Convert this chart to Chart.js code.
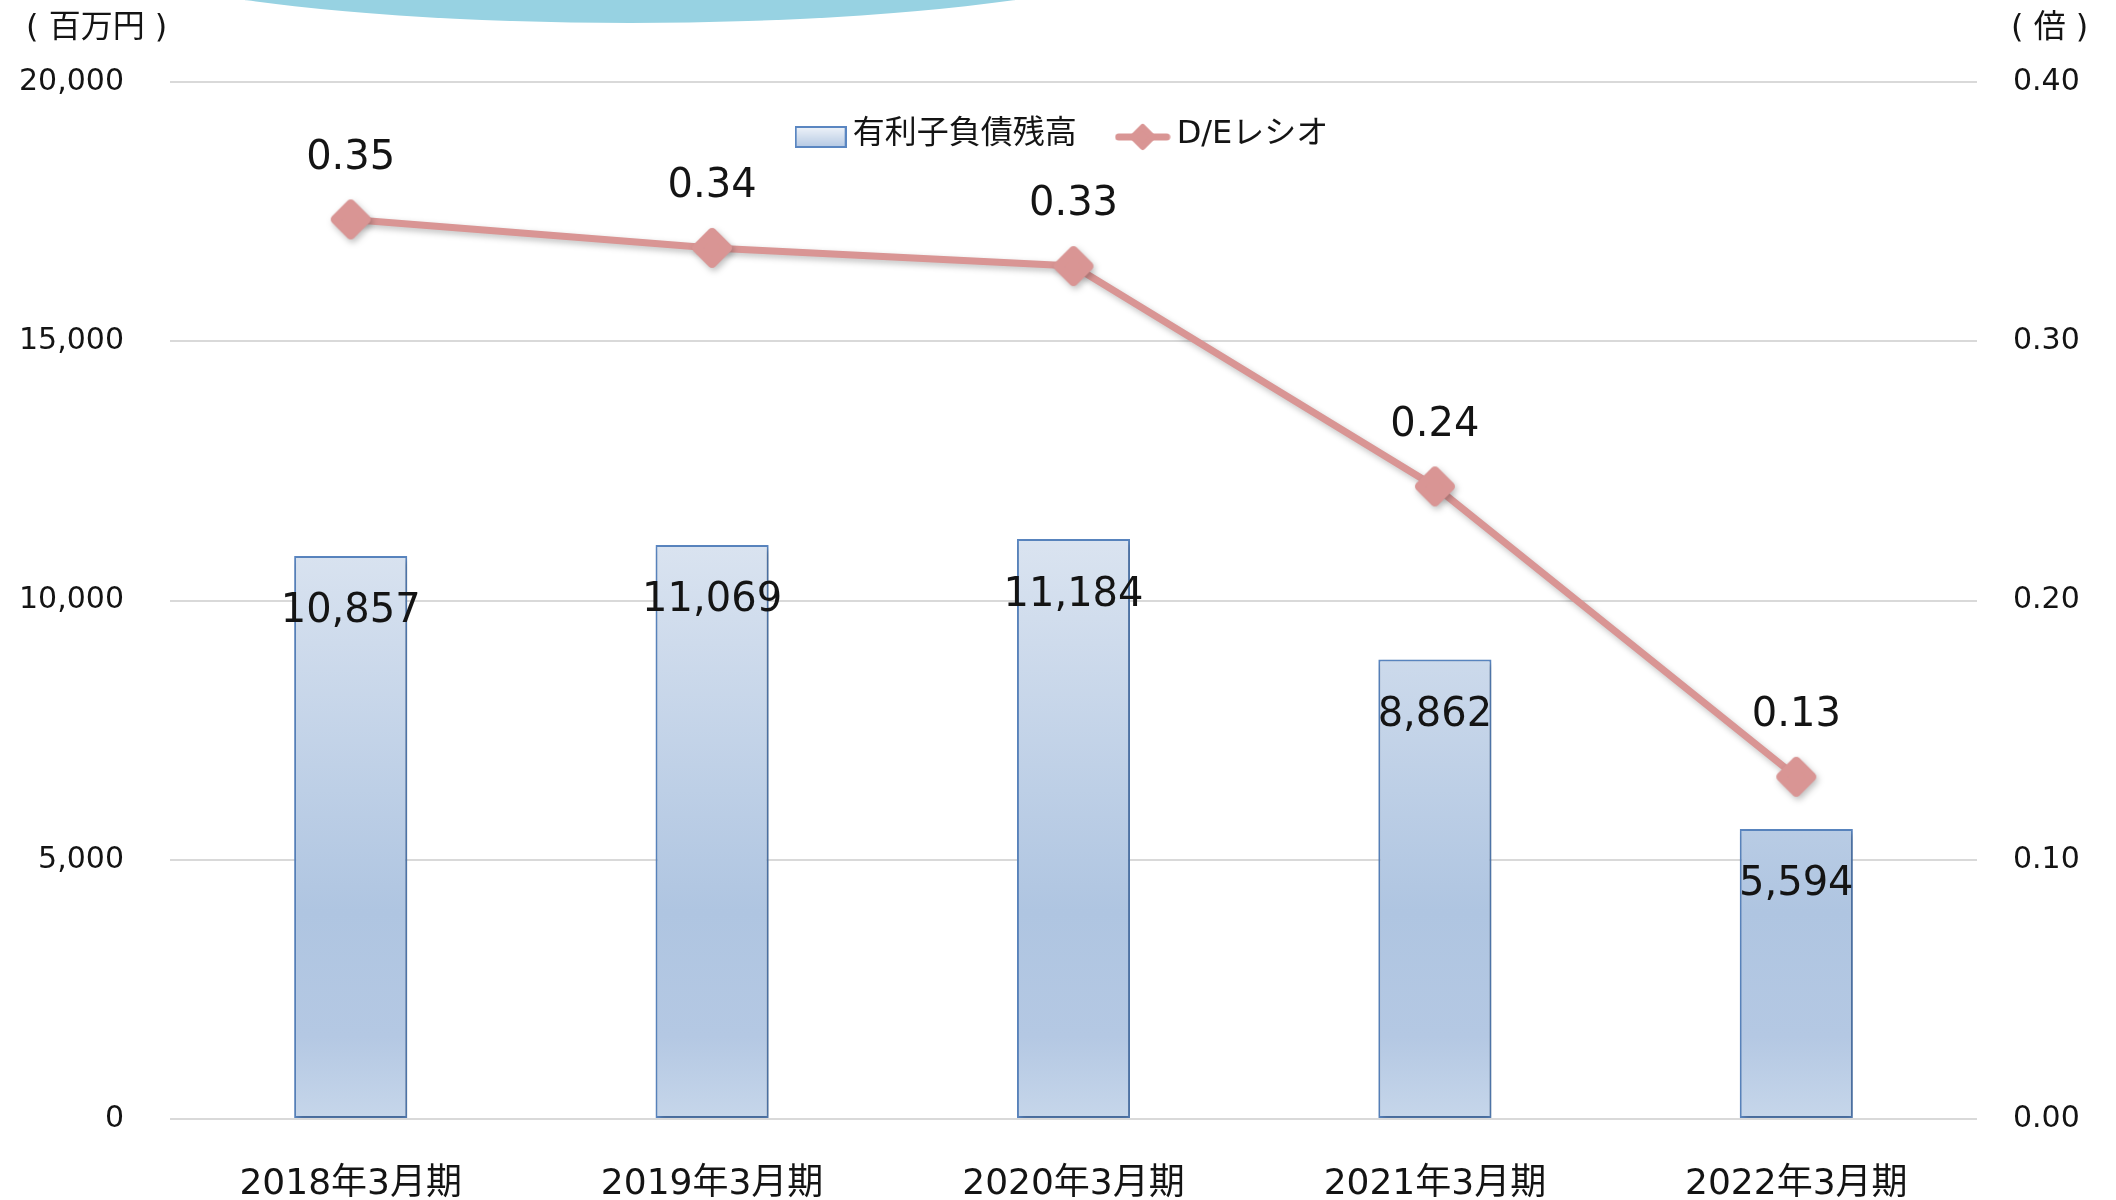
<!DOCTYPE html>
<html lang="ja">
<head>
<meta charset="utf-8">
<title>有利子負債残高とD/Eレシオ</title>
<script src="https://cdn.jsdelivr.net/npm/chart.js@4.4.1/dist/chart.umd.min.js"></script>
<style>
    html, body {
        margin: 0;
        padding: 0;
        background: #ffffff;
        overflow: hidden;
    }

    .chart-wrap {
        position: relative;
        width: 2116px;
        height: 1200px;
    }

    .top-arc {
        position: absolute;
        left: 26px;
        top: -177px;
        width: 1208px;
        height: 200px;
        border-radius: 50%;
        background: #97d2e2;
    }

    #debtChart {
        position: relative;
    }
</style>
</head>
<body>
<div class="chart-wrap">
    <div class="top-arc"></div>
    <canvas id="debtChart" width="2116" height="1200"></canvas>
</div>
<script>
const periods = ['2018年3月期', '2019年3月期', '2020年3月期', '2021年3月期', '2022年3月期'];
const debtBalance = [10857, 11069, 11184, 8862, 5594];
const deRatio = [0.347, 0.336, 0.329, 0.244, 0.132];
const debtTicks = [0, 5000, 10000, 15000, 20000];
const ratioTicks = [0, 0.1, 0.2, 0.3, 0.4];
const seriesNames = ['有利子負債残高', 'D/Eレシオ'];

const FONT = "'DejaVu Sans', 'Noto Sans CJK JP', sans-serif";
const LINE_COLOR = '#d99594';
const BAR_BORDER = '#5a86c1';
const TEXT_COLOR = '#141414';

const numberFormatter = new Intl.NumberFormat('en-US');

function barGradient(ctx, area) {
    const g = ctx.createLinearGradient(0, area.top, 0, area.bottom);
    g.addColorStop(0, '#f7f9fd');
    g.addColorStop(0.4, '#dfe7f2');
    g.addColorStop(0.8, '#afc5e1');
    g.addColorStop(0.92, '#b4c8e3');
    g.addColorStop(1, '#c6d6ea');
    return g;
}

function drawDiamond(x, cx, cy, r) {
    x.beginPath();
    x.moveTo(cx, cy - r);
    x.lineTo(cx + r, cy);
    x.lineTo(cx, cy + r);
    x.lineTo(cx - r, cy);
    x.closePath();
    x.fill();
    x.stroke();
}

// rounded diamond used as the line marker
function makeMarker() {
    const c = document.createElement('canvas');
    c.width = 46;
    c.height = 46;
    const x = c.getContext('2d');
    x.fillStyle = LINE_COLOR;
    x.strokeStyle = LINE_COLOR;
    x.lineJoin = 'round';
    x.lineWidth = 9;
    drawDiamond(x, 23, 23, 15.5);
    return c;
}

function makeBarSwatch() {
    const c = document.createElement('canvas');
    c.width = 52;
    c.height = 22;
    const x = c.getContext('2d');
    const g = x.createLinearGradient(0, 0, 0, 22);
    g.addColorStop(0, '#f1f5fa');
    g.addColorStop(1, '#b3c7e2');
    x.fillStyle = g;
    x.fillRect(1, 1, 50, 20);
    x.strokeStyle = BAR_BORDER;
    x.lineWidth = 2;
    x.strokeRect(1, 1, 50, 20);
    return c;
}

function makeLineSwatch() {
    const c = document.createElement('canvas');
    c.width = 56;
    c.height = 34;
    const x = c.getContext('2d');
    x.strokeStyle = LINE_COLOR;
    x.fillStyle = LINE_COLOR;
    x.lineCap = 'round';
    x.lineJoin = 'round';
    x.lineWidth = 7;
    x.beginPath();
    x.moveTo(4, 17);
    x.lineTo(52, 17);
    x.stroke();
    x.lineWidth = 6;
    drawDiamond(x, 28, 17, 10);
    return c;
}

const markerImage = makeMarker();
const barSwatch = makeBarSwatch();
const lineSwatch = makeLineSwatch();

// shadows, value labels, unit captions and legend
const decorPlugin = {
    id: 'decor',
    beforeDatasetDraw(chart) {
        const ctx = chart.ctx;
        ctx.save();
        ctx.shadowColor = 'rgba(0, 0, 0, 0.25)';
        ctx.shadowBlur = 6;
        ctx.shadowOffsetX = 2;
        ctx.shadowOffsetY = 3;
    },
    afterDatasetDraw(chart) {
        chart.ctx.restore();
    },
    afterDatasetsDraw(chart) {
        const ctx = chart.ctx;
        const area = chart.chartArea;
        ctx.save();
        ctx.fillStyle = TEXT_COLOR;
        ctx.font = '40px ' + FONT;
        ctx.textAlign = 'center';
        ctx.textBaseline = 'middle';

        chart.data.datasets.forEach(function (dataset, i) {
            const meta = chart.getDatasetMeta(i);
            meta.data.forEach(function (el, j) {
                if (meta.type === 'bar') {
                    ctx.fillText(numberFormatter.format(dataset.data[j]), el.x, el.y + 56);
                } else {
                    ctx.fillText(dataset.data[j].toFixed(2), el.x, el.y - 61);
                }
            });
        });

        // unit captions
        ctx.font = '32px ' + FONT;
        ctx.textAlign = 'left';
        ctx.fillText('( 百万円 )', 26, area.top - 53);
        ctx.fillText('( 倍 )', area.right + 34, area.top - 53);

        // legend
        ctx.font = '32px ' + FONT;
        const gapSwatch = 6;
        const gapItem = 38;
        const w1 = ctx.measureText(seriesNames[0]).width;
        const w2 = ctx.measureText(seriesNames[1]).width;
        const total = barSwatch.width + gapSwatch + w1 + gapItem + lineSwatch.width + gapSwatch + w2;
        const cy = area.top + 53;
        let lx = (area.left + area.right) / 2 - 12 - total / 2;
        ctx.drawImage(barSwatch, lx, cy - barSwatch.height / 2 + 2);
        lx += barSwatch.width + gapSwatch;
        ctx.fillText(seriesNames[0], lx, cy);
        lx += w1 + gapItem;
        ctx.drawImage(lineSwatch, lx, cy - lineSwatch.height / 2 + 2);
        lx += lineSwatch.width + gapSwatch;
        ctx.fillText(seriesNames[1], lx, cy);
        ctx.restore();
    }
};

const ctx = document.getElementById('debtChart');

new Chart(ctx, {
    data: {
        labels: periods,
        datasets: [
            {
                type: 'line',
                label: seriesNames[1],
                data: deRatio,
                yAxisID: 'yRatio',
                order: 0,
                borderColor: LINE_COLOR,
                backgroundColor: LINE_COLOR,
                borderWidth: 7,
                tension: 0,
                pointStyle: markerImage,
                pointRadius: 20,
                pointBorderWidth: 0
            },
            {
                type: 'bar',
                label: seriesNames[0],
                data: debtBalance,
                yAxisID: 'yDebt',
                order: 1,
                backgroundColor: function (context) {
                    const area = context.chart.chartArea;
                    if (!area) {
                        return '#c8d7ea';
                    }
                    return barGradient(context.chart.ctx, area);
                },
                borderColor: BAR_BORDER,
                borderWidth: 2,
                borderSkipped: false,
                barPercentage: 0.313,
                categoryPercentage: 1
            }
        ]
    },
    options: {
        responsive: false,
        animation: false,
        layout: {
            padding: { top: 82, left: 0, right: 0, bottom: 0 }
        },
        plugins: {
            tooltip: { enabled: false },
            legend: { display: false }
        },
        scales: {
            x: {
                grid: { display: false, drawTicks: false },
                border: { display: false },
                ticks: {
                    color: TEXT_COLOR,
                    padding: 44,
                    font: { family: FONT, size: 36 }
                },
                afterFit: function (scale) {
                    scale.height = 81;
                }
            },
            yDebt: {
                position: 'left',
                min: 0,
                max: 20000,
                afterBuildTicks: function (scale) {
                    scale.ticks = debtTicks.map(function (v) { return { value: v }; });
                },
                grid: { color: '#d9d9d9', lineWidth: 2, drawTicks: false },
                border: { display: false },
                ticks: {
                    color: TEXT_COLOR,
                    padding: 46,
                    font: { family: FONT, size: 30 },
                    callback: function (value) {
                        return numberFormatter.format(value);
                    }
                },
                afterFit: function (scale) {
                    scale.width = 170;
                }
            },
            yRatio: {
                position: 'right',
                min: 0,
                max: 0.4,
                afterBuildTicks: function (scale) {
                    scale.ticks = ratioTicks.map(function (v) { return { value: v }; });
                },
                grid: { display: false, drawTicks: false },
                border: { display: false },
                ticks: {
                    color: TEXT_COLOR,
                    padding: 36,
                    font: { family: FONT, size: 30 },
                    callback: function (value) {
                        return value.toFixed(2);
                    }
                },
                afterFit: function (scale) {
                    scale.width = 139;
                }
            }
        }
    },
    plugins: [decorPlugin]
});
</script>
</body>
</html>
